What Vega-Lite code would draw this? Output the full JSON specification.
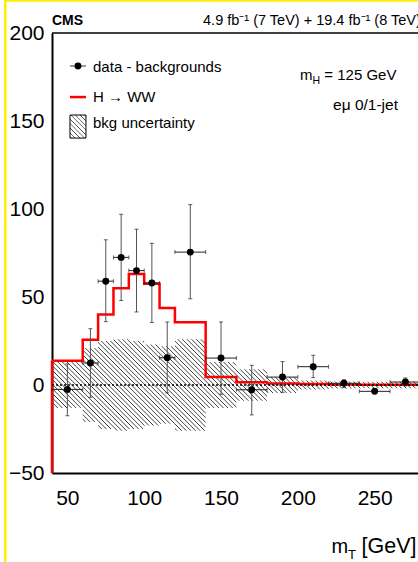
{
"$schema":"https://vega.github.io/schema/vega-lite/v6.json",
"width":366,"height":440,
"autosize":{"type":"none"},
"padding":{"left":52,"top":33,"right":0,"bottom":89},
"background":"white",
"config":{"view":{"stroke":null},"font":"Liberation Sans"},
"datasets":{
"pts":[
{"x":50,"xlo":40,"xhi":60,"y":-2.5,"ylo":-17.5,"yhi":12},
{"x":65,"xlo":60,"xhi":70,"y":12.5,"ylo":-7,"yhi":32},
{"x":75,"xlo":70,"xhi":80,"y":59,"ylo":36,"yhi":82.5},
{"x":85,"xlo":80,"xhi":90,"y":72.5,"ylo":48,"yhi":97},
{"x":95,"xlo":90,"xhi":100,"y":65,"ylo":41.5,"yhi":88.5},
{"x":105,"xlo":100,"xhi":110,"y":58,"ylo":35.5,"yhi":80.5},
{"x":115,"xlo":110,"xhi":120,"y":15.5,"ylo":-4.5,"yhi":35.8},
{"x":130,"xlo":120,"xhi":140,"y":75.5,"ylo":49,"yhi":102.5},
{"x":150,"xlo":140,"xhi":160,"y":15.3,"ylo":-5.3,"yhi":35.8},
{"x":170,"xlo":160,"xhi":180,"y":-2.7,"ylo":-17,"yhi":11.2},
{"x":190,"xlo":180,"xhi":200,"y":4.5,"ylo":-4.2,"yhi":13.3},
{"x":210,"xlo":200,"xhi":220,"y":10.4,"ylo":4.2,"yhi":16.9},
{"x":230,"xlo":220,"xhi":240,"y":1,"ylo":-1.5,"yhi":3},
{"x":250,"xlo":240,"xhi":260,"y":-3.6,"ylo":-4.5,"yhi":-2.5},
{"x":270,"xlo":260,"xhi":280,"y":1.7,"ylo":-0.5,"yhi":4}
],
"hist":[
{"lo":40,"hi":60,"h":13.8,"bhi":13,"blo":-13},
{"lo":60,"hi":70,"h":25.7,"bhi":21,"blo":-21},
{"lo":70,"hi":80,"h":40,"bhi":25,"blo":-25},
{"lo":80,"hi":90,"h":55,"bhi":26,"blo":-26},
{"lo":90,"hi":100,"h":63,"bhi":25,"blo":-25},
{"lo":100,"hi":110,"h":57.5,"bhi":23,"blo":-23},
{"lo":110,"hi":120,"h":43.7,"bhi":22,"blo":-22},
{"lo":120,"hi":140,"h":35.6,"bhi":26,"blo":-26},
{"lo":140,"hi":160,"h":4.5,"bhi":13,"blo":-13},
{"lo":160,"hi":180,"h":1.5,"bhi":9,"blo":-9},
{"lo":180,"hi":200,"h":0.8,"bhi":4.5,"blo":-4.5},
{"lo":200,"hi":220,"h":0.5,"bhi":2.5,"blo":-2.5},
{"lo":220,"hi":240,"h":0.3,"bhi":2,"blo":-2},
{"lo":240,"hi":260,"h":0.2,"bhi":1.8,"blo":-1.8},
{"lo":260,"hi":280,"h":0.2,"bhi":1.8,"blo":-1.8}
]
},
"resolve":{"axis":{"x":"independent","y":"independent"}},
"layer":[
{"data":{"name":"hist"},
"transform":[{"fold":["lo","hi"],"as":["edge","xv"]}],
"mark":{"type":"area","stroke":null,"fill":{"gradient":"linear","x1":0,"y1":1,"x2":1.1757,"y2":0.7083,"stops":[
{"offset":0,"color":"rgba(51,51,51,0)"},{"offset":0.002,"color":"#333"},{"offset":0.004,"color":"rgba(51,51,51,0)"},
{"offset":0.01,"color":"rgba(51,51,51,0)"},{"offset":0.012,"color":"#333"},{"offset":0.014,"color":"rgba(51,51,51,0)"},
{"offset":0.02,"color":"rgba(51,51,51,0)"},{"offset":0.022,"color":"#333"},{"offset":0.024,"color":"rgba(51,51,51,0)"},
{"offset":0.03,"color":"rgba(51,51,51,0)"},{"offset":0.032,"color":"#333"},{"offset":0.034,"color":"rgba(51,51,51,0)"},
{"offset":0.04,"color":"rgba(51,51,51,0)"},{"offset":0.042,"color":"#333"},{"offset":0.044,"color":"rgba(51,51,51,0)"},
{"offset":0.05,"color":"rgba(51,51,51,0)"},{"offset":0.052,"color":"#333"},{"offset":0.054,"color":"rgba(51,51,51,0)"},
{"offset":0.06,"color":"rgba(51,51,51,0)"},{"offset":0.062,"color":"#333"},{"offset":0.064,"color":"rgba(51,51,51,0)"},
{"offset":0.07,"color":"rgba(51,51,51,0)"},{"offset":0.072,"color":"#333"},{"offset":0.074,"color":"rgba(51,51,51,0)"},
{"offset":0.08,"color":"rgba(51,51,51,0)"},{"offset":0.082,"color":"#333"},{"offset":0.084,"color":"rgba(51,51,51,0)"},
{"offset":0.09,"color":"rgba(51,51,51,0)"},{"offset":0.092,"color":"#333"},{"offset":0.094,"color":"rgba(51,51,51,0)"},
{"offset":0.1,"color":"rgba(51,51,51,0)"},{"offset":0.102,"color":"#333"},{"offset":0.104,"color":"rgba(51,51,51,0)"},
{"offset":0.11,"color":"rgba(51,51,51,0)"},{"offset":0.112,"color":"#333"},{"offset":0.114,"color":"rgba(51,51,51,0)"},
{"offset":0.12,"color":"rgba(51,51,51,0)"},{"offset":0.122,"color":"#333"},{"offset":0.124,"color":"rgba(51,51,51,0)"},
{"offset":0.13,"color":"rgba(51,51,51,0)"},{"offset":0.132,"color":"#333"},{"offset":0.134,"color":"rgba(51,51,51,0)"},
{"offset":0.14,"color":"rgba(51,51,51,0)"},{"offset":0.142,"color":"#333"},{"offset":0.144,"color":"rgba(51,51,51,0)"},
{"offset":0.15,"color":"rgba(51,51,51,0)"},{"offset":0.152,"color":"#333"},{"offset":0.154,"color":"rgba(51,51,51,0)"},
{"offset":0.16,"color":"rgba(51,51,51,0)"},{"offset":0.162,"color":"#333"},{"offset":0.164,"color":"rgba(51,51,51,0)"},
{"offset":0.17,"color":"rgba(51,51,51,0)"},{"offset":0.172,"color":"#333"},{"offset":0.174,"color":"rgba(51,51,51,0)"},
{"offset":0.18,"color":"rgba(51,51,51,0)"},{"offset":0.182,"color":"#333"},{"offset":0.184,"color":"rgba(51,51,51,0)"},
{"offset":0.19,"color":"rgba(51,51,51,0)"},{"offset":0.192,"color":"#333"},{"offset":0.194,"color":"rgba(51,51,51,0)"},
{"offset":0.2,"color":"rgba(51,51,51,0)"},{"offset":0.202,"color":"#333"},{"offset":0.204,"color":"rgba(51,51,51,0)"},
{"offset":0.21,"color":"rgba(51,51,51,0)"},{"offset":0.212,"color":"#333"},{"offset":0.214,"color":"rgba(51,51,51,0)"},
{"offset":0.22,"color":"rgba(51,51,51,0)"},{"offset":0.222,"color":"#333"},{"offset":0.224,"color":"rgba(51,51,51,0)"},
{"offset":0.23,"color":"rgba(51,51,51,0)"},{"offset":0.232,"color":"#333"},{"offset":0.234,"color":"rgba(51,51,51,0)"},
{"offset":0.24,"color":"rgba(51,51,51,0)"},{"offset":0.242,"color":"#333"},{"offset":0.244,"color":"rgba(51,51,51,0)"},
{"offset":0.25,"color":"rgba(51,51,51,0)"},{"offset":0.252,"color":"#333"},{"offset":0.254,"color":"rgba(51,51,51,0)"},
{"offset":0.26,"color":"rgba(51,51,51,0)"},{"offset":0.262,"color":"#333"},{"offset":0.264,"color":"rgba(51,51,51,0)"},
{"offset":0.27,"color":"rgba(51,51,51,0)"},{"offset":0.272,"color":"#333"},{"offset":0.274,"color":"rgba(51,51,51,0)"},
{"offset":0.28,"color":"rgba(51,51,51,0)"},{"offset":0.282,"color":"#333"},{"offset":0.284,"color":"rgba(51,51,51,0)"},
{"offset":0.29,"color":"rgba(51,51,51,0)"},{"offset":0.292,"color":"#333"},{"offset":0.294,"color":"rgba(51,51,51,0)"},
{"offset":0.3,"color":"rgba(51,51,51,0)"},{"offset":0.302,"color":"#333"},{"offset":0.304,"color":"rgba(51,51,51,0)"},
{"offset":0.31,"color":"rgba(51,51,51,0)"},{"offset":0.312,"color":"#333"},{"offset":0.314,"color":"rgba(51,51,51,0)"},
{"offset":0.32,"color":"rgba(51,51,51,0)"},{"offset":0.322,"color":"#333"},{"offset":0.324,"color":"rgba(51,51,51,0)"},
{"offset":0.33,"color":"rgba(51,51,51,0)"},{"offset":0.332,"color":"#333"},{"offset":0.334,"color":"rgba(51,51,51,0)"},
{"offset":0.34,"color":"rgba(51,51,51,0)"},{"offset":0.342,"color":"#333"},{"offset":0.344,"color":"rgba(51,51,51,0)"},
{"offset":0.35,"color":"rgba(51,51,51,0)"},{"offset":0.352,"color":"#333"},{"offset":0.354,"color":"rgba(51,51,51,0)"},
{"offset":0.36,"color":"rgba(51,51,51,0)"},{"offset":0.362,"color":"#333"},{"offset":0.364,"color":"rgba(51,51,51,0)"},
{"offset":0.37,"color":"rgba(51,51,51,0)"},{"offset":0.372,"color":"#333"},{"offset":0.374,"color":"rgba(51,51,51,0)"},
{"offset":0.38,"color":"rgba(51,51,51,0)"},{"offset":0.382,"color":"#333"},{"offset":0.384,"color":"rgba(51,51,51,0)"},
{"offset":0.39,"color":"rgba(51,51,51,0)"},{"offset":0.392,"color":"#333"},{"offset":0.394,"color":"rgba(51,51,51,0)"},
{"offset":0.4,"color":"rgba(51,51,51,0)"},{"offset":0.402,"color":"#333"},{"offset":0.404,"color":"rgba(51,51,51,0)"},
{"offset":0.41,"color":"rgba(51,51,51,0)"},{"offset":0.412,"color":"#333"},{"offset":0.414,"color":"rgba(51,51,51,0)"},
{"offset":0.42,"color":"rgba(51,51,51,0)"},{"offset":0.422,"color":"#333"},{"offset":0.424,"color":"rgba(51,51,51,0)"},
{"offset":0.43,"color":"rgba(51,51,51,0)"},{"offset":0.432,"color":"#333"},{"offset":0.434,"color":"rgba(51,51,51,0)"},
{"offset":0.44,"color":"rgba(51,51,51,0)"},{"offset":0.442,"color":"#333"},{"offset":0.444,"color":"rgba(51,51,51,0)"},
{"offset":0.45,"color":"rgba(51,51,51,0)"},{"offset":0.452,"color":"#333"},{"offset":0.454,"color":"rgba(51,51,51,0)"},
{"offset":0.46,"color":"rgba(51,51,51,0)"},{"offset":0.462,"color":"#333"},{"offset":0.464,"color":"rgba(51,51,51,0)"},
{"offset":0.47,"color":"rgba(51,51,51,0)"},{"offset":0.472,"color":"#333"},{"offset":0.474,"color":"rgba(51,51,51,0)"},
{"offset":0.48,"color":"rgba(51,51,51,0)"},{"offset":0.482,"color":"#333"},{"offset":0.484,"color":"rgba(51,51,51,0)"},
{"offset":0.49,"color":"rgba(51,51,51,0)"},{"offset":0.492,"color":"#333"},{"offset":0.494,"color":"rgba(51,51,51,0)"},
{"offset":0.5,"color":"rgba(51,51,51,0)"},{"offset":0.502,"color":"#333"},{"offset":0.504,"color":"rgba(51,51,51,0)"},
{"offset":0.51,"color":"rgba(51,51,51,0)"},{"offset":0.512,"color":"#333"},{"offset":0.514,"color":"rgba(51,51,51,0)"},
{"offset":0.52,"color":"rgba(51,51,51,0)"},{"offset":0.522,"color":"#333"},{"offset":0.524,"color":"rgba(51,51,51,0)"},
{"offset":0.53,"color":"rgba(51,51,51,0)"},{"offset":0.532,"color":"#333"},{"offset":0.534,"color":"rgba(51,51,51,0)"},
{"offset":0.54,"color":"rgba(51,51,51,0)"},{"offset":0.542,"color":"#333"},{"offset":0.544,"color":"rgba(51,51,51,0)"},
{"offset":0.55,"color":"rgba(51,51,51,0)"},{"offset":0.552,"color":"#333"},{"offset":0.554,"color":"rgba(51,51,51,0)"},
{"offset":0.56,"color":"rgba(51,51,51,0)"},{"offset":0.562,"color":"#333"},{"offset":0.564,"color":"rgba(51,51,51,0)"},
{"offset":0.57,"color":"rgba(51,51,51,0)"},{"offset":0.572,"color":"#333"},{"offset":0.574,"color":"rgba(51,51,51,0)"},
{"offset":0.58,"color":"rgba(51,51,51,0)"},{"offset":0.582,"color":"#333"},{"offset":0.584,"color":"rgba(51,51,51,0)"},
{"offset":0.59,"color":"rgba(51,51,51,0)"},{"offset":0.592,"color":"#333"},{"offset":0.594,"color":"rgba(51,51,51,0)"},
{"offset":0.6,"color":"rgba(51,51,51,0)"},{"offset":0.602,"color":"#333"},{"offset":0.604,"color":"rgba(51,51,51,0)"},
{"offset":0.61,"color":"rgba(51,51,51,0)"},{"offset":0.612,"color":"#333"},{"offset":0.614,"color":"rgba(51,51,51,0)"},
{"offset":0.62,"color":"rgba(51,51,51,0)"},{"offset":0.622,"color":"#333"},{"offset":0.624,"color":"rgba(51,51,51,0)"},
{"offset":0.63,"color":"rgba(51,51,51,0)"},{"offset":0.632,"color":"#333"},{"offset":0.634,"color":"rgba(51,51,51,0)"},
{"offset":0.64,"color":"rgba(51,51,51,0)"},{"offset":0.642,"color":"#333"},{"offset":0.644,"color":"rgba(51,51,51,0)"},
{"offset":0.65,"color":"rgba(51,51,51,0)"},{"offset":0.652,"color":"#333"},{"offset":0.654,"color":"rgba(51,51,51,0)"},
{"offset":0.66,"color":"rgba(51,51,51,0)"},{"offset":0.662,"color":"#333"},{"offset":0.664,"color":"rgba(51,51,51,0)"},
{"offset":0.67,"color":"rgba(51,51,51,0)"},{"offset":0.672,"color":"#333"},{"offset":0.674,"color":"rgba(51,51,51,0)"},
{"offset":0.68,"color":"rgba(51,51,51,0)"},{"offset":0.682,"color":"#333"},{"offset":0.684,"color":"rgba(51,51,51,0)"},
{"offset":0.69,"color":"rgba(51,51,51,0)"},{"offset":0.692,"color":"#333"},{"offset":0.694,"color":"rgba(51,51,51,0)"},
{"offset":0.7,"color":"rgba(51,51,51,0)"},{"offset":0.702,"color":"#333"},{"offset":0.704,"color":"rgba(51,51,51,0)"},
{"offset":0.71,"color":"rgba(51,51,51,0)"},{"offset":0.712,"color":"#333"},{"offset":0.714,"color":"rgba(51,51,51,0)"},
{"offset":0.72,"color":"rgba(51,51,51,0)"},{"offset":0.722,"color":"#333"},{"offset":0.724,"color":"rgba(51,51,51,0)"},
{"offset":0.73,"color":"rgba(51,51,51,0)"},{"offset":0.732,"color":"#333"},{"offset":0.734,"color":"rgba(51,51,51,0)"},
{"offset":0.74,"color":"rgba(51,51,51,0)"},{"offset":0.742,"color":"#333"},{"offset":0.744,"color":"rgba(51,51,51,0)"},
{"offset":0.75,"color":"rgba(51,51,51,0)"},{"offset":0.752,"color":"#333"},{"offset":0.754,"color":"rgba(51,51,51,0)"},
{"offset":0.76,"color":"rgba(51,51,51,0)"},{"offset":0.762,"color":"#333"},{"offset":0.764,"color":"rgba(51,51,51,0)"},
{"offset":0.77,"color":"rgba(51,51,51,0)"},{"offset":0.772,"color":"#333"},{"offset":0.774,"color":"rgba(51,51,51,0)"},
{"offset":0.78,"color":"rgba(51,51,51,0)"},{"offset":0.782,"color":"#333"},{"offset":0.784,"color":"rgba(51,51,51,0)"},
{"offset":0.79,"color":"rgba(51,51,51,0)"},{"offset":0.792,"color":"#333"},{"offset":0.794,"color":"rgba(51,51,51,0)"},
{"offset":0.8,"color":"rgba(51,51,51,0)"},{"offset":0.802,"color":"#333"},{"offset":0.804,"color":"rgba(51,51,51,0)"},
{"offset":0.81,"color":"rgba(51,51,51,0)"},{"offset":0.812,"color":"#333"},{"offset":0.814,"color":"rgba(51,51,51,0)"},
{"offset":0.82,"color":"rgba(51,51,51,0)"},{"offset":0.822,"color":"#333"},{"offset":0.824,"color":"rgba(51,51,51,0)"},
{"offset":0.83,"color":"rgba(51,51,51,0)"},{"offset":0.832,"color":"#333"},{"offset":0.834,"color":"rgba(51,51,51,0)"},
{"offset":0.84,"color":"rgba(51,51,51,0)"},{"offset":0.842,"color":"#333"},{"offset":0.844,"color":"rgba(51,51,51,0)"},
{"offset":0.85,"color":"rgba(51,51,51,0)"},{"offset":0.852,"color":"#333"},{"offset":0.854,"color":"rgba(51,51,51,0)"},
{"offset":0.86,"color":"rgba(51,51,51,0)"},{"offset":0.862,"color":"#333"},{"offset":0.864,"color":"rgba(51,51,51,0)"},
{"offset":0.87,"color":"rgba(51,51,51,0)"},{"offset":0.872,"color":"#333"},{"offset":0.874,"color":"rgba(51,51,51,0)"},
{"offset":0.88,"color":"rgba(51,51,51,0)"},{"offset":0.882,"color":"#333"},{"offset":0.884,"color":"rgba(51,51,51,0)"},
{"offset":0.89,"color":"rgba(51,51,51,0)"},{"offset":0.892,"color":"#333"},{"offset":0.894,"color":"rgba(51,51,51,0)"},
{"offset":0.9,"color":"rgba(51,51,51,0)"},{"offset":0.902,"color":"#333"},{"offset":0.904,"color":"rgba(51,51,51,0)"},
{"offset":0.91,"color":"rgba(51,51,51,0)"},{"offset":0.912,"color":"#333"},{"offset":0.914,"color":"rgba(51,51,51,0)"},
{"offset":0.92,"color":"rgba(51,51,51,0)"},{"offset":0.922,"color":"#333"},{"offset":0.924,"color":"rgba(51,51,51,0)"},
{"offset":0.93,"color":"rgba(51,51,51,0)"},{"offset":0.932,"color":"#333"},{"offset":0.934,"color":"rgba(51,51,51,0)"},
{"offset":0.94,"color":"rgba(51,51,51,0)"},{"offset":0.942,"color":"#333"},{"offset":0.944,"color":"rgba(51,51,51,0)"},
{"offset":0.95,"color":"rgba(51,51,51,0)"},{"offset":0.952,"color":"#333"},{"offset":0.954,"color":"rgba(51,51,51,0)"},
{"offset":0.96,"color":"rgba(51,51,51,0)"},{"offset":0.962,"color":"#333"},{"offset":0.964,"color":"rgba(51,51,51,0)"},
{"offset":0.97,"color":"rgba(51,51,51,0)"},{"offset":0.972,"color":"#333"},{"offset":0.974,"color":"rgba(51,51,51,0)"},
{"offset":0.98,"color":"rgba(51,51,51,0)"},{"offset":0.982,"color":"#333"},{"offset":0.984,"color":"rgba(51,51,51,0)"},
{"offset":0.99,"color":"rgba(51,51,51,0)"},{"offset":0.992,"color":"#333"},{"offset":0.994,"color":"rgba(51,51,51,0)"},
{"offset":1,"color":"rgba(51,51,51,0)"}
]}},
"encoding":{
"x":{"field":"xv","type":"quantitative","scale":{"domain":[40,278.2],"nice":false,"zero":false},
"axis":{"orient":"bottom","values":[50,100,150,200,250],"labels":true,"labelFontSize":21,"labelColor":"black","labelPadding":14,"labelFlush":false,"labelOverlap":false,"ticks":false,"tickSize":0,"grid":false,"domain":true,"domainColor":"black","domainWidth":2,"title":null}},
"y":{"field":"bhi","type":"quantitative","scale":{"domain":[-50,200],"nice":false,"zero":false},
"axis":{"orient":"left","values":[-50,0,50,100,150,200],"labels":true,"labelFontSize":21,"labelColor":"black","labelPadding":8,"labelFlush":false,"labelOverlap":false,"ticks":false,"tickSize":0,"grid":false,"domain":true,"domainColor":"black","domainWidth":2,"title":null}},
"y2":{"field":"blo"},
"order":[{"field":"xv","type":"quantitative"},{"field":"edge","type":"nominal"}]
}},
{"data":{"values":[{}]},
"mark":{"type":"rule","color":"black","strokeWidth":1.5},
"encoding":{"y":{"datum":200,"axis":null}}},
{"data":{"values":[{}]},
"mark":{"type":"rule","color":"#ffee00","strokeWidth":2.5,"clip":false},
"encoding":{"x":{"datum":9.6,"axis":null},"y":{"datum":218.8,"axis":null},"y2":{"datum":-100.6}}},
{"data":{"values":[{}]},
"mark":{"type":"rule","color":"#ffee00","strokeWidth":2,"clip":false},
"encoding":{"x":{"datum":9.6,"axis":null},"x2":{"datum":282},"y":{"datum":218.3,"axis":null}}},
{"data":{"name":"hist"},
"transform":[{"fold":["lo","hi"],"as":["edge","xv"]}],
"mark":{"type":"line","color":"#ff0000","strokeWidth":2.5,"strokeJoin":"miter"},
"encoding":{
"x":{"field":"xv","type":"quantitative","axis":null},
"y":{"field":"h","type":"quantitative","axis":null},
"order":[{"field":"xv","type":"quantitative"},{"field":"edge","type":"nominal"}]
}},
{"data":{"name":"hist"},
"transform":[{"filter":"datum.lo == 40"}],
"mark":{"type":"rule","color":"#ff0000","strokeWidth":2.5},
"encoding":{"x":{"field":"lo","type":"quantitative","axis":null},"y":{"field":"h","type":"quantitative","axis":null},"y2":{"datum":-50}}},
{"data":{"values":[{}]},
"mark":{"type":"rule","color":"black","strokeWidth":1.5,"strokeDash":[2,2]},
"encoding":{"y":{"datum":0,"axis":null}}},
{"data":{"name":"pts"},
"mark":{"type":"rule","color":"#555","strokeWidth":1},
"encoding":{"x":{"field":"x","type":"quantitative","axis":null},"y":{"field":"ylo","type":"quantitative","axis":null},"y2":{"field":"yhi"}}},
{"data":{"name":"pts"},
"mark":{"type":"rule","color":"#222","strokeWidth":1},
"encoding":{"x":{"field":"xlo","type":"quantitative","axis":null},"x2":{"field":"xhi"},"y":{"field":"y","type":"quantitative","axis":null}}},
{"data":{"name":"pts"},
"transform":[{"fold":["ylo","yhi"],"as":["cap","cy"]}],
"mark":{"type":"tick","orient":"horizontal","color":"#222","size":4,"thickness":1},
"encoding":{"x":{"field":"x","type":"quantitative","axis":null},"y":{"field":"cy","type":"quantitative","axis":null}}},
{"data":{"name":"pts"},
"transform":[{"fold":["xlo","xhi"],"as":["cap","cx"]}],
"mark":{"type":"tick","orient":"vertical","color":"#222","size":4,"thickness":1},
"encoding":{"x":{"field":"cx","type":"quantitative","axis":null},"y":{"field":"y","type":"quantitative","axis":null}}},
{"data":{"name":"pts"},
"mark":{"type":"point","filled":true,"color":"black","opacity":1,"size":48},
"encoding":{"x":{"field":"x","type":"quantitative","axis":null},"y":{"field":"y","type":"quantitative","axis":null}}},
{"data":{"values":[{}]},
"mark":{"type":"rule","color":"#333","strokeWidth":1},
"encoding":{"x":{"datum":51.7,"axis":null},"x2":{"datum":62.1},"y":{"datum":181.25,"axis":null}}},
{"data":{"values":[{}]},
"mark":{"type":"point","filled":true,"color":"black","opacity":1,"size":48},
"encoding":{"x":{"datum":56.9,"axis":null},"y":{"datum":181.25,"axis":null}}},
{"data":{"values":[{}]},
"mark":{"type":"rule","color":"#ff0000","strokeWidth":2.5},
"encoding":{"x":{"datum":51.7,"axis":null},"x2":{"datum":62.1},"y":{"datum":163.6,"axis":null}}},
{"data":{"values":[{}]},
"mark":{"type":"rect","stroke":"black","strokeWidth":1,"fill":{"gradient":"linear","x1":0,"y1":1,"x2":0.7949,"y2":-0.1427,"stops":[
{"offset":0,"color":"#fff"},{"offset":0.02,"color":"#333"},{"offset":0.04,"color":"#fff"},
{"offset":0.118,"color":"#fff"},{"offset":0.138,"color":"#333"},{"offset":0.158,"color":"#fff"},
{"offset":0.236,"color":"#fff"},{"offset":0.256,"color":"#333"},{"offset":0.276,"color":"#fff"},
{"offset":0.354,"color":"#fff"},{"offset":0.374,"color":"#333"},{"offset":0.394,"color":"#fff"},
{"offset":0.472,"color":"#fff"},{"offset":0.492,"color":"#333"},{"offset":0.512,"color":"#fff"},
{"offset":0.59,"color":"#fff"},{"offset":0.61,"color":"#333"},{"offset":0.63,"color":"#fff"},
{"offset":0.708,"color":"#fff"},{"offset":0.728,"color":"#333"},{"offset":0.748,"color":"#fff"},
{"offset":0.826,"color":"#fff"},{"offset":0.846,"color":"#333"},{"offset":0.866,"color":"#fff"},
{"offset":0.944,"color":"#fff"},{"offset":0.964,"color":"#333"},{"offset":0.984,"color":"#fff"},
{"offset":1,"color":"#fff"}]}},
"encoding":{"x":{"datum":51.7,"axis":null},"x2":{"datum":62.1},"y":{"datum":153.4,"axis":null},"y2":{"datum":140.3}}},
{"data":{"values":[{}]},
"mark":{"type":"text","text":"data - backgrounds","fontSize":15,"align":"left","baseline":"alphabetic","color":"black"},
"encoding":{"x":{"datum":66.7,"axis":null},"y":{"datum":177.8,"axis":null}}},
{"data":{"values":[{}]},
"mark":{"type":"text","text":"H → WW","fontSize":15,"align":"left","baseline":"alphabetic","color":"black"},
"encoding":{"x":{"datum":66.7,"axis":null},"y":{"datum":160.8,"axis":null}}},
{"data":{"values":[{}]},
"mark":{"type":"text","text":"bkg uncertainty","fontSize":15,"align":"left","baseline":"alphabetic","color":"black"},
"encoding":{"x":{"datum":66.7,"axis":null},"y":{"datum":146.0,"axis":null}}},
{"data":{"values":[{}]},
"mark":{"type":"text","text":"m","fontSize":15,"align":"left","baseline":"alphabetic","color":"black"},
"encoding":{"x":{"datum":201.4,"axis":null},"y":{"datum":173.3,"axis":null}}},
{"data":{"values":[{}]},
"mark":{"type":"text","text":"H","fontSize":10.5,"align":"left","baseline":"alphabetic","color":"black"},
"encoding":{"x":{"datum":209.6,"axis":null},"y":{"datum":171.0,"axis":null}}},
{"data":{"values":[{}]},
"mark":{"type":"text","text":"= 125 GeV","fontSize":15,"align":"left","baseline":"alphabetic","color":"black"},
"encoding":{"x":{"datum":217.2,"axis":null},"y":{"datum":173.3,"axis":null}}},
{"data":{"values":[{}]},
"mark":{"type":"text","text":"eμ 0/1-jet","fontSize":15.5,"align":"left","baseline":"alphabetic","color":"black"},
"encoding":{"x":{"datum":222.9,"axis":null},"y":{"datum":156.25,"axis":null}}},
{"data":{"values":[{}]},
"mark":{"type":"text","text":"CMS","fontSize":14,"fontWeight":"bold","align":"left","baseline":"alphabetic","color":"black"},
"encoding":{"x":{"datum":40,"axis":null},"y":{"datum":204.5,"axis":null}}},
{"data":{"values":[{}]},
"mark":{"type":"text","text":"4.9 fb⁻¹ (7 TeV) + 19.4 fb⁻¹ (8 TeV)","fontSize":14.5,"align":"left","baseline":"alphabetic","color":"black"},
"encoding":{"x":{"datum":138.3,"axis":null},"y":{"datum":204.5,"axis":null}}},
{"data":{"values":[{}]},
"mark":{"type":"text","text":"m","fontSize":20,"align":"left","baseline":"alphabetic","color":"black"},
"encoding":{"x":{"datum":221.9,"axis":null},"y":{"datum":-95.45,"axis":null}}},
{"data":{"values":[{}]},
"mark":{"type":"text","text":"T","fontSize":13,"align":"left","baseline":"alphabetic","color":"black"},
"encoding":{"x":{"datum":232.6,"axis":null},"y":{"datum":-99.1,"axis":null}}},
{"data":{"values":[{}]},
"mark":{"type":"text","text":"[GeV]","fontSize":21.5,"align":"left","baseline":"alphabetic","color":"black"},
"encoding":{"x":{"datum":241.5,"axis":null},"y":{"datum":-95.45,"axis":null}}}
]
}
